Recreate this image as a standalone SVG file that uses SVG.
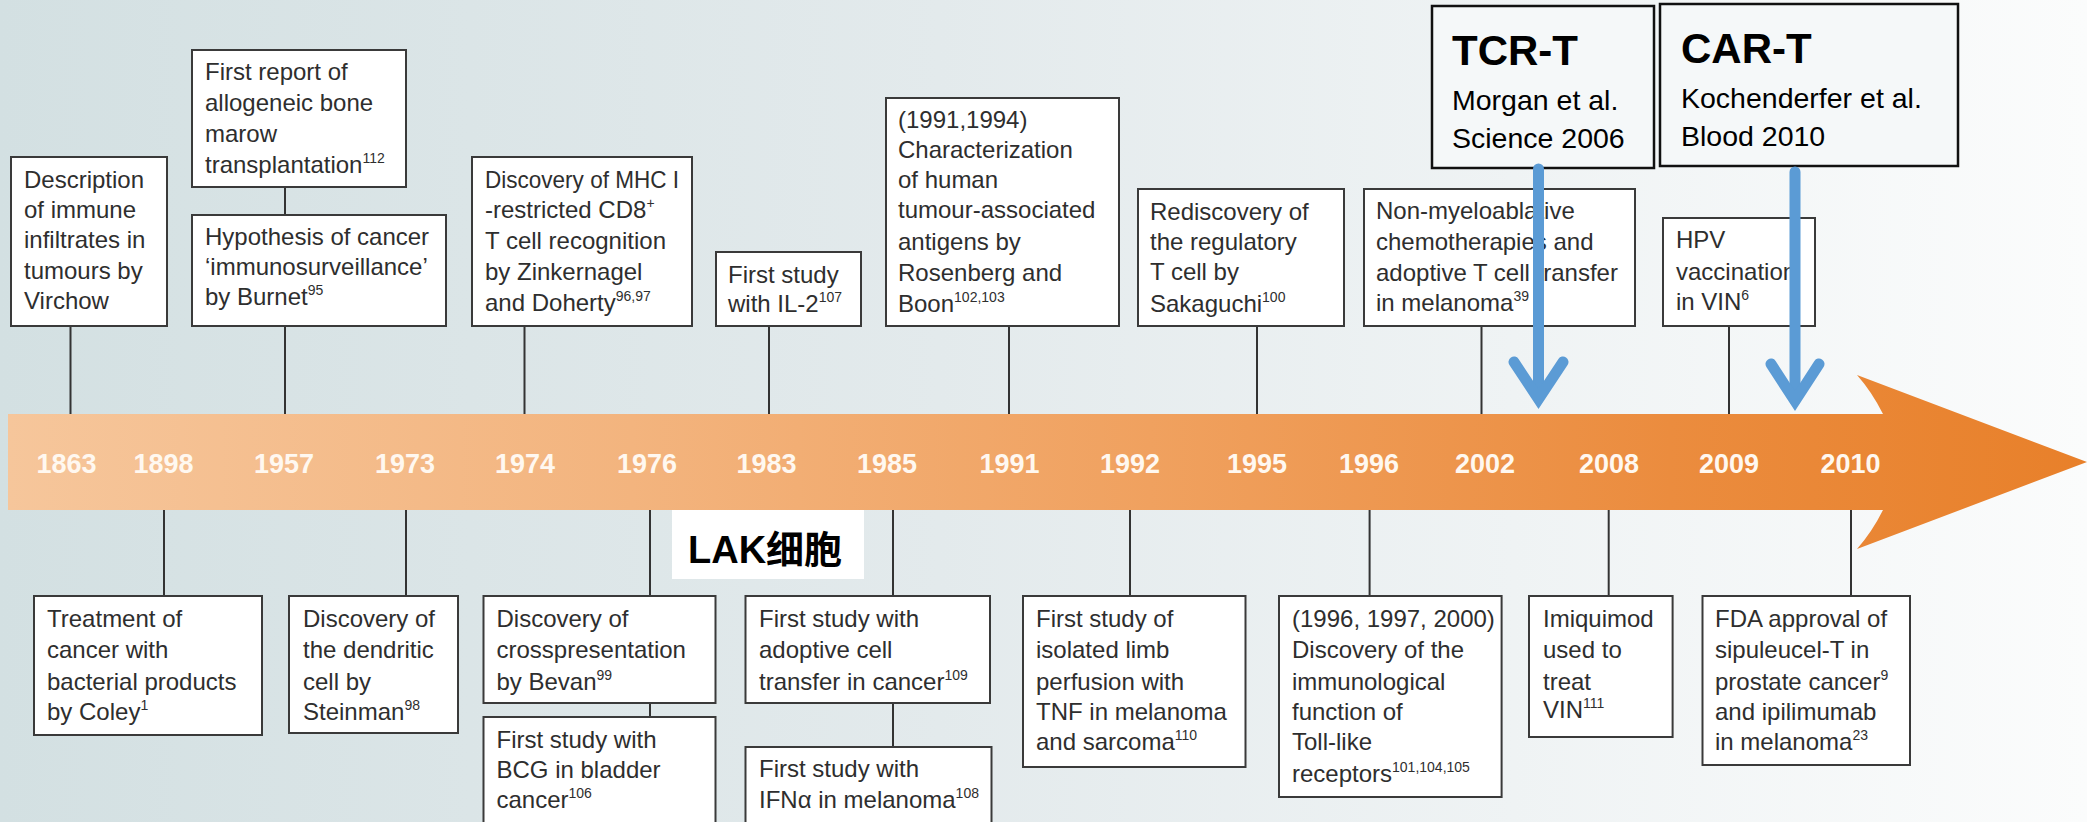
<svg xmlns="http://www.w3.org/2000/svg" width="2087" height="822" viewBox="0 0 2087 822">
<defs>
<linearGradient id="bg" x1="0" y1="0" x2="2087" y2="0" gradientUnits="userSpaceOnUse">
<stop offset="0" stop-color="#d3e0e2"/>
<stop offset="0.45" stop-color="#e3eaec"/>
<stop offset="1" stop-color="#fbfcfc"/>
</linearGradient>
<linearGradient id="bar" x1="8" y1="0" x2="2087" y2="0" gradientUnits="userSpaceOnUse">
<stop offset="0" stop-color="#f6c69b"/>
<stop offset="0.3" stop-color="#f3b47e"/>
<stop offset="0.55" stop-color="#f0a15f"/>
<stop offset="0.8" stop-color="#eb8c3e"/>
<stop offset="1" stop-color="#e8802a"/>
</linearGradient>
<style>
.box{fill:#ffffff;stroke:#3a3a3a;stroke-width:2}
.hl{fill:#f5f8f9;stroke:#111;stroke-width:2.5}
.ln{stroke:#333;stroke-width:2;fill:none}
.t{font-family:"Liberation Sans",Arial,sans-serif;font-size:24px;fill:#2e2e2e}
.s{font-size:14px}
.yr{font-family:"Liberation Sans",Arial,sans-serif;font-size:27px;font-weight:bold;fill:#fff8f0;text-anchor:middle}
.big{font-family:"Liberation Sans",Arial,sans-serif;font-size:42px;font-weight:bold;fill:#000}
.ref{font-family:"Liberation Sans",Arial,sans-serif;font-size:28.5px;fill:#000}
.blue{stroke:#5b9bd5;stroke-width:11;fill:none;stroke-linecap:round}
.chev{stroke:#5b9bd5;stroke-width:11;fill:none;stroke-linecap:round;stroke-linejoin:miter}
</style>
</defs>
<rect x="0" y="0" width="2087" height="822" fill="url(#bg)"/>
<g id="timeline">
<path d="M8 414 L1883 414 Q1872 392 1857 375 L2087 462 L1857 549 Q1872 532 1883 510 L8 510 Z" fill="url(#bar)"/>
<g id="years">
<text class="yr" x="66.5" y="473">1863</text>
<text class="yr" x="163.5" y="473">1898</text>
<text class="yr" x="284" y="473">1957</text>
<text class="yr" x="405" y="473">1973</text>
<text class="yr" x="525" y="473">1974</text>
<text class="yr" x="647" y="473">1976</text>
<text class="yr" x="766.5" y="473">1983</text>
<text class="yr" x="887" y="473">1985</text>
<text class="yr" x="1009.6" y="473">1991</text>
<text class="yr" x="1130" y="473">1992</text>
<text class="yr" x="1257" y="473">1995</text>
<text class="yr" x="1369" y="473">1996</text>
<text class="yr" x="1485" y="473">2002</text>
<text class="yr" x="1609" y="473">2008</text>
<text class="yr" x="1729" y="473">2009</text>
<text class="yr" x="1850.5" y="473">2010</text>
</g>
</g>
<g id="connectors">
<line class="ln" x1="70.5" y1="326" x2="70.5" y2="414"/>
<line class="ln" x1="285" y1="187" x2="285" y2="215"/>
<line class="ln" x1="285" y1="326" x2="285" y2="414"/>
<line class="ln" x1="524.5" y1="326" x2="524.5" y2="414"/>
<line class="ln" x1="769" y1="326" x2="769" y2="414"/>
<line class="ln" x1="1009" y1="326" x2="1009" y2="414"/>
<line class="ln" x1="1257" y1="326" x2="1257" y2="414"/>
<line class="ln" x1="1481.5" y1="326" x2="1481.5" y2="414"/>
<line class="ln" x1="1729" y1="326" x2="1729" y2="414"/>
<line class="ln" x1="164" y1="510" x2="164" y2="596"/>
<line class="ln" x1="406" y1="510" x2="406" y2="596"/>
<line class="ln" x1="650" y1="510" x2="650" y2="596"/>
<line class="ln" x1="650" y1="703" x2="650" y2="717"/>
<line class="ln" x1="893" y1="510" x2="893" y2="596"/>
<line class="ln" x1="893" y1="703" x2="893" y2="747"/>
<line class="ln" x1="1130" y1="510" x2="1130" y2="596"/>
<line class="ln" x1="1369.6" y1="510" x2="1369.6" y2="596"/>
<line class="ln" x1="1608.7" y1="510" x2="1608.7" y2="596"/>
<line class="ln" x1="1851" y1="510" x2="1851" y2="596"/>
</g>
<g id="n-virchow">
<rect class="box" x="11" y="157" width="156" height="169"/>
<text class="t" x="24" y="188">Description</text>
<text class="t" x="24" y="218">of immune</text>
<text class="t" x="24" y="248">infiltrates in</text>
<text class="t" x="24" y="279">tumours by</text>
<text class="t" x="24" y="309">Virchow</text>
</g>
<g id="n-bone">
<rect class="box" x="192" y="50" width="214" height="137"/>
<text class="t" x="205" y="80">First report of</text>
<text class="t" x="205" y="111">allogeneic bone</text>
<text class="t" x="205" y="142">marow</text>
<text class="t" x="205" y="173">transplantation<tspan class="s" dy="-10">112</tspan></text>
</g>
<g id="n-burnet">
<rect class="box" x="192" y="215" width="254" height="111"/>
<text class="t" x="205" y="245">Hypothesis of cancer</text>
<text class="t" x="205" y="275">‘immunosurveillance’</text>
<text class="t" x="205" y="305">by Burnet<tspan class="s" dy="-10">95</tspan></text>
</g>
<g id="n-mhc">
<rect class="box" x="472" y="157" width="220" height="169"/>
<text class="t" x="485" y="188" textLength="194" lengthAdjust="spacingAndGlyphs">Discovery of MHC I</text>
<text class="t" x="485" y="218">-restricted CD8<tspan class="s" dy="-10">+</tspan></text>
<text class="t" x="485" y="249">T cell recognition</text>
<text class="t" x="485" y="280">by Zinkernagel</text>
<text class="t" x="485" y="311">and Doherty<tspan class="s" dy="-10">96,97</tspan></text>
</g>
<g id="n-il2">
<rect class="box" x="716" y="252" width="145" height="74"/>
<text class="t" x="728" y="283">First study</text>
<text class="t" x="728" y="312">with IL-2<tspan class="s" dy="-10">107</tspan></text>
</g>
<g id="n-antigens">
<rect class="box" x="886" y="98" width="233" height="228"/>
<text class="t" x="898" y="128">(1991,1994)</text>
<text class="t" x="898" y="158">Characterization</text>
<text class="t" x="898" y="188">of human</text>
<text class="t" x="898" y="218">tumour-associated</text>
<text class="t" x="898" y="250">antigens by</text>
<text class="t" x="898" y="281">Rosenberg and</text>
<text class="t" x="898" y="312">Boon<tspan class="s" dy="-10">102,103</tspan></text>
</g>
<g id="n-treg">
<rect class="box" x="1138" y="189" width="206" height="137"/>
<text class="t" x="1150" y="220">Rediscovery of</text>
<text class="t" x="1150" y="250">the regulatory</text>
<text class="t" x="1150" y="280">T cell by</text>
<text class="t" x="1150" y="312">Sakaguchi<tspan class="s" dy="-10">100</tspan></text>
</g>
<g id="n-nonmyelo">
<rect class="box" x="1364" y="189" width="271" height="137"/>
<text class="t" x="1376" y="219">Non-myeloablative</text>
<text class="t" x="1376" y="250">chemotherapies and</text>
<text class="t" x="1376" y="281">adoptive T cell transfer</text>
<text class="t" x="1376" y="311">in melanoma<tspan class="s" dy="-10">39</tspan></text>
</g>
<g id="n-hpv">
<rect class="box" x="1663" y="218" width="152" height="108"/>
<text class="t" x="1676" y="248">HPV</text>
<text class="t" x="1676" y="280">vaccination</text>
<text class="t" x="1676" y="310">in VIN<tspan class="s" dy="-10">6</tspan></text>
</g>
<g id="n-coley">
<rect class="box" x="34" y="596" width="228" height="139"/>
<text class="t" x="47" y="627">Treatment of</text>
<text class="t" x="47" y="658">cancer with</text>
<text class="t" x="47" y="690">bacterial products</text>
<text class="t" x="47" y="720">by Coley<tspan class="s" dy="-10">1</tspan></text>
</g>
<g id="n-steinman">
<rect class="box" x="289" y="596" width="169" height="137"/>
<text class="t" x="303" y="627">Discovery of</text>
<text class="t" x="303" y="658">the dendritic</text>
<text class="t" x="303" y="690">cell by</text>
<text class="t" x="303" y="720">Steinman<tspan class="s" dy="-10">98</tspan></text>
</g>
<g id="n-bevan">
<rect class="box" x="483.5" y="596" width="232" height="107"/>
<text class="t" x="496.5" y="627">Discovery of</text>
<text class="t" x="496.5" y="658">crosspresentation</text>
<text class="t" x="496.5" y="690">by Bevan<tspan class="s" dy="-10">99</tspan></text>
</g>
<g id="n-bcg">
<rect class="box" x="483.5" y="717" width="232" height="120"/>
<text class="t" x="496.5" y="748">First study with</text>
<text class="t" x="496.5" y="778">BCG in bladder</text>
<text class="t" x="496.5" y="808">cancer<tspan class="s" dy="-10">106</tspan></text>
</g>
<g id="n-adoptive">
<rect class="box" x="745.5" y="596" width="244.5" height="107"/>
<text class="t" x="759" y="627">First study with</text>
<text class="t" x="759" y="658">adoptive cell</text>
<text class="t" x="759" y="690">transfer in cancer<tspan class="s" dy="-10">109</tspan></text>
</g>
<g id="n-ifn">
<rect class="box" x="745.5" y="747" width="246" height="90"/>
<text class="t" x="759" y="777">First study with</text>
<text class="t" x="759" y="808">IFNα in melanoma<tspan class="s" dy="-10">108</tspan></text>
</g>
<g id="n-tnf">
<rect class="box" x="1023" y="596" width="222.5" height="171"/>
<text class="t" x="1036" y="627">First study of</text>
<text class="t" x="1036" y="658">isolated limb</text>
<text class="t" x="1036" y="690">perfusion with</text>
<text class="t" x="1036" y="720">TNF in melanoma</text>
<text class="t" x="1036" y="750">and sarcoma<tspan class="s" dy="-10">110</tspan></text>
</g>
<g id="n-toll">
<rect class="box" x="1279" y="596" width="222.6" height="201"/>
<text class="t" x="1292" y="627">(1996, 1997, 2000)</text>
<text class="t" x="1292" y="658">Discovery of the</text>
<text class="t" x="1292" y="690">immunological</text>
<text class="t" x="1292" y="720">function of</text>
<text class="t" x="1292" y="750">Toll-like</text>
<text class="t" x="1292" y="782">receptors<tspan class="s" dy="-10">101,104,105</tspan></text>
</g>
<g id="n-imiquimod">
<rect class="box" x="1529" y="596" width="143.6" height="141"/>
<text class="t" x="1543" y="627">Imiquimod</text>
<text class="t" x="1543" y="658">used to</text>
<text class="t" x="1543" y="690">treat</text>
<text class="t" x="1543" y="718">VIN<tspan class="s" dy="-10">111</tspan></text>
</g>
<g id="n-fda">
<rect class="box" x="1702.5" y="596" width="207.5" height="169"/>
<text class="t" x="1715" y="627">FDA approval of</text>
<text class="t" x="1715" y="658">sipuleucel-T in</text>
<text class="t" x="1715" y="690">prostate cancer<tspan class="s" dy="-10">9</tspan></text>
<text class="t" x="1715" y="720">and ipilimumab</text>
<text class="t" x="1715" y="750">in melanoma<tspan class="s" dy="-10">23</tspan></text>
</g>
<g id="n-lak">
<rect x="672" y="510" width="192" height="69" fill="#ffffff"/>
<text x="688" y="563" font-family="'Liberation Sans','Noto Sans CJK SC',sans-serif" font-size="38" font-weight="bold" fill="#000">LAK细胞</text>
</g>
<g id="n-tcr">
<rect class="hl" x="1432" y="6" width="222" height="162"/>
<text class="big" x="1452" y="65">TCR-T</text>
<text class="ref" x="1452" y="110">Morgan et al.</text>
<text class="ref" x="1452" y="148">Science 2006</text>
</g>
<g id="n-car">
<rect class="hl" x="1660" y="4" width="298" height="162"/>
<text class="big" x="1681" y="63">CAR-T</text>
<text class="ref" x="1681" y="108">Kochenderfer et al.</text>
<text class="ref" x="1681" y="146">Blood 2010</text>
</g>
<g id="blue-arrows">
<line class="blue" x1="1538.5" y1="169" x2="1538.5" y2="398"/>
<polyline class="chev" points="1514,362 1538.5,399 1563,362"/>
<line class="blue" x1="1795" y1="172" x2="1795" y2="400"/>
<polyline class="chev" points="1771,364 1795,401 1819,364"/>
</g>
</svg>
